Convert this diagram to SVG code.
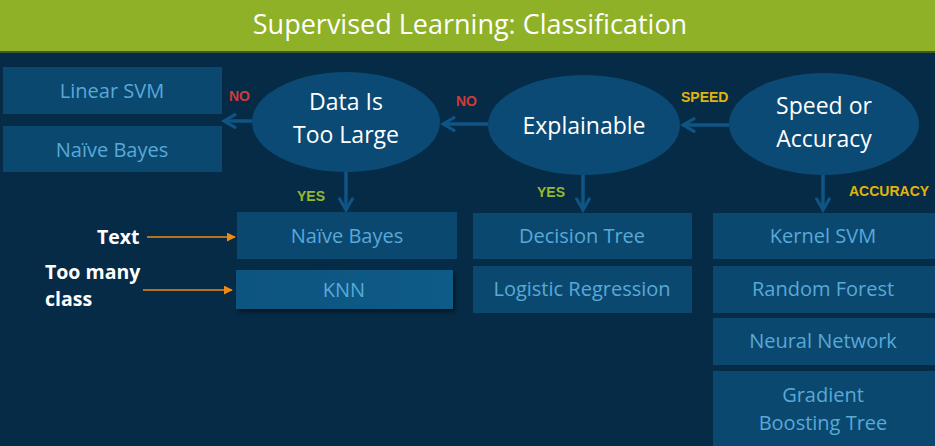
<svg xmlns="http://www.w3.org/2000/svg" width="935" height="446" viewBox="0 0 935 446">
<defs>
<style>
.box{fill:#0b4870;}
.bt{font-family:"Open Sans","Noto Sans",sans-serif;font-size:20px;fill:#58a9d8;text-anchor:middle;}
.el{fill:#0b4a74;}
.et{font-family:"Open Sans","Noto Sans",sans-serif;font-size:23px;fill:#ffffff;text-anchor:middle;}
.conn{stroke:#0f5484;stroke-width:3.5;fill:none;}
.lab{font-family:"Liberation Sans",Arial,sans-serif;font-size:14px;font-weight:bold;}
.no{fill:#d23a3a;}
.yes{fill:#98b82c;}
.sp{fill:#e2b40a;}
.ann{font-family:"Open Sans","Noto Sans",sans-serif;font-size:19.5px;font-weight:bold;fill:#ffffff;}
.oa{stroke:#f08a10;stroke-width:1.5;fill:none;}
</style>
<marker id="ah" viewBox="0 0 10 10" refX="8" refY="5" markerWidth="4.5" markerHeight="4.5" orient="auto" markerUnits="strokeWidth">
<path d="M1,1 L8,5 L1,9" fill="none" stroke="#0f5484" stroke-width="2" stroke-linecap="round"/>
</marker>
<marker id="oh" viewBox="0 0 10 10" refX="9" refY="5" markerWidth="6" markerHeight="6" orient="auto" markerUnits="strokeWidth">
<path d="M0,0 L10,5 L0,10 Z" fill="#f08a10"/>
</marker>
<filter id="sh" x="-5%" y="-10%" width="115%" height="130%">
<feDropShadow dx="2" dy="3" stdDeviation="2" flood-color="#000000" flood-opacity="0.5"/>
</filter>
<linearGradient id="kg" x1="0" y1="0" x2="1" y2="0">
<stop offset="0" stop-color="#0d5580"/>
<stop offset="1" stop-color="#105b87"/>
</linearGradient>
</defs>
<rect x="0" y="0" width="935" height="446" fill="#062b46"/>
<rect x="0" y="0" width="935" height="51" fill="#8eb128"/>
<rect x="0" y="51" width="935" height="2" fill="#3d5a2a"/>
<text x="470" y="34" font-family="'Open Sans','Noto Sans',sans-serif" font-size="27" fill="#ffffff" text-anchor="middle">Supervised Learning: Classification</text>

<g id="connectors">
<line class="conn" x1="729" y1="125" x2="683" y2="125" marker-end="url(#ah)"/>
<line class="conn" x1="488" y1="124" x2="443" y2="124" marker-end="url(#ah)"/>
<line class="conn" x1="252" y1="121" x2="224" y2="121" marker-end="url(#ah)"/>
<line class="conn" x1="346" y1="172" x2="346" y2="210" marker-end="url(#ah)"/>
<line class="conn" x1="583" y1="175" x2="583" y2="210" marker-end="url(#ah)"/>
<line class="conn" x1="823" y1="175" x2="823" y2="210" marker-end="url(#ah)"/>
<text class="lab no" x="229" y="101">NO</text>
<text class="lab no" x="456" y="106">NO</text>
<text class="lab sp" x="681" y="102">SPEED</text>
<text class="lab yes" x="297" y="201">YES</text>
<text class="lab yes" x="537" y="197">YES</text>
<text class="lab sp" x="849" y="196">ACCURACY</text>
<line class="oa" x1="147" y1="237" x2="235" y2="237" marker-end="url(#oh)"/>
<line class="oa" x1="143" y1="290" x2="232" y2="290" marker-end="url(#oh)"/>
</g>

<g id="data-too-large">
<ellipse class="el" cx="346" cy="122" rx="94" ry="50"/>
<text class="et" x="346" y="110">Data Is</text>
<text class="et" x="346" y="143">Too Large</text>
</g>
<g id="explainable">
<ellipse class="el" cx="584" cy="125" rx="96" ry="50"/>
<text class="et" x="584" y="134">Explainable</text>
</g>
<g id="speed-or-accuracy">
<ellipse class="el" cx="824" cy="124" rx="95" ry="51"/>
<text class="et" x="824" y="114">Speed or</text>
<text class="et" x="824" y="147">Accuracy</text>
</g>

<g id="linear-svm">
<rect class="box" x="3" y="67" width="219" height="47"/>
<text class="bt" x="112" y="98">Linear SVM</text>
</g>
<g id="naive-bayes-left">
<rect class="box" x="3" y="126" width="219" height="46"/>
<text class="bt" x="112" y="157">Naïve Bayes</text>
</g>
<g id="naive-bayes-mid">
<rect class="box" x="237" y="212" width="220" height="47"/>
<text class="bt" x="347" y="243">Naïve Bayes</text>
</g>
<g id="knn">
<rect x="236" y="270" width="217" height="39" fill="url(#kg)" filter="url(#sh)"/>
<text class="bt" x="344" y="297">KNN</text>
</g>
<g id="decision-tree">
<rect class="box" x="473" y="213" width="219" height="46"/>
<text class="bt" x="582" y="243">Decision Tree</text>
</g>
<g id="logistic-regression">
<rect class="box" x="473" y="266" width="219" height="47"/>
<text class="bt" x="582" y="296">Logistic Regression</text>
</g>
<g id="kernel-svm">
<rect class="box" x="713" y="213" width="222" height="46"/>
<text class="bt" x="823" y="243">Kernel SVM</text>
</g>
<g id="random-forest">
<rect class="box" x="713" y="266" width="222" height="47"/>
<text class="bt" x="823" y="296">Random Forest</text>
</g>
<g id="neural-network">
<rect class="box" x="713" y="318" width="222" height="47"/>
<text class="bt" x="823" y="348">Neural Network</text>
</g>
<g id="gradient-boosting-tree">
<rect class="box" x="713" y="371" width="222" height="75"/>
<text class="bt" x="823" y="402">Gradient</text>
<text class="bt" x="823" y="430">Boosting Tree</text>
</g>

<g id="annotations">
<text class="ann" x="97" y="244">Text</text>
<text class="ann" x="45" y="279">Too many</text>
<text class="ann" x="45" y="306">class</text>
</g>
</svg>
